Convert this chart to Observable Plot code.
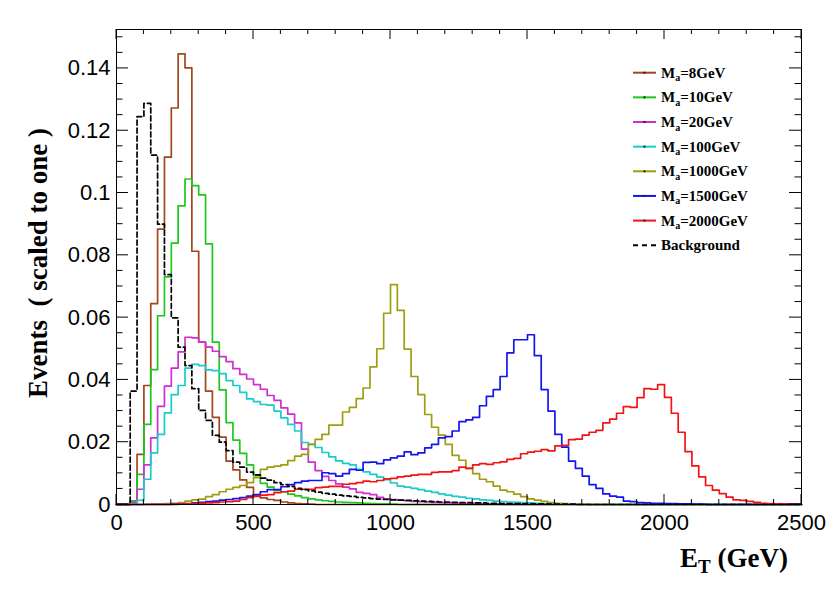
<!DOCTYPE html>
<html><head><meta charset="utf-8">
<script src="https://cdn.jsdelivr.net/npm/d3@7"></script>
<script src="https://cdn.jsdelivr.net/npm/@observablehq/plot@0.6"></script>
<style>html,body{margin:0;padding:0;background:#fff;} #chart{width:830px;height:593px;}</style>
</head><body><div id="chart"></div>
<script>
// ---- data (25 GeV bins, 0..2500 GeV) ----
const binWidth = 25;
const xTicks = [0, 500, 1000, 1500, 2000, 2500];
const yTicks = [0, 0.02, 0.04, 0.06, 0.08, 0.1, 0.12, 0.14];
const yTickLabels = ["0", "0.02", "0.04", "0.06", "0.08", "0.1", "0.12", "0.14"];

const ma8 = [
 0, 0, 0.0011, 0.0161, 0.0382, 0.0645, 0.0884, 0.1115, 0.1273, 0.1447,
 0.1402, 0.0813, 0.0521, 0.0364, 0.0280, 0.0216, 0.0139, 0.0111, 0.0079, 0.0055,
 0.0030, 0.0021, 0.0016, 0.0013, 0.0008, 0.0005, 0.0003, 0.0002, 0.0001, 0,
 0, 0, 0, 0, 0, 0, 0, 0, 0, 0,
 0, 0, 0, 0, 0, 0, 0, 0, 0, 0,
 0, 0, 0, 0, 0, 0, 0, 0, 0, 0,
 0, 0, 0, 0, 0, 0, 0, 0, 0, 0,
 0, 0, 0, 0, 0, 0, 0, 0, 0, 0,
 0, 0, 0, 0, 0, 0, 0, 0, 0, 0,
 0, 0, 0, 0, 0, 0, 0, 0, 0, 0];
const ma10 = [
 0, 0, 0.0008, 0.0097, 0.0257, 0.0433, 0.0606, 0.0731, 0.0839, 0.0959,
 0.1045, 0.1024, 0.0994, 0.0837, 0.0521, 0.0368, 0.0263, 0.0207, 0.0164, 0.0127,
 0.0093, 0.0068, 0.0056, 0.0045, 0.0041, 0.0033, 0.0028, 0.0022, 0.0018, 0.0015,
 0.0012, 0.0010, 0.0008, 0.0007, 0.0006, 0.0005, 0.0004, 0.0003, 0.0002, 0.0002,
 0.0001, 0, 0, 0, 0, 0, 0, 0, 0, 0,
 0, 0, 0, 0, 0, 0, 0, 0, 0, 0,
 0, 0, 0, 0, 0, 0, 0, 0, 0, 0,
 0, 0, 0, 0, 0, 0, 0, 0, 0, 0,
 0, 0, 0, 0, 0, 0, 0, 0, 0, 0,
 0, 0, 0, 0, 0, 0, 0, 0, 0, 0];
const ma20 = [
 0, 0, 0.0005, 0.0049, 0.0127, 0.0214, 0.0315, 0.0380, 0.0438, 0.0490,
 0.0537, 0.0535, 0.0521, 0.0505, 0.0492, 0.0475, 0.0459, 0.0436, 0.0418, 0.0403,
 0.0385, 0.0370, 0.0350, 0.0334, 0.0310, 0.0290, 0.0262, 0.0178, 0.0136, 0.0109,
 0.0090, 0.0077, 0.0066, 0.0056, 0.0050, 0.0039, 0.0036, 0.0032, 0.0023, 0.0018,
 0.0016, 0.0014, 0.0012, 0.0010, 0.0009, 0.0008, 0.0007, 0.0006, 0.0005, 0.0004,
 0.0004, 0.0003, 0.0003, 0.0002, 0.0002, 0.0001, 0, 0, 0, 0,
 0, 0, 0, 0, 0, 0, 0, 0, 0, 0,
 0, 0, 0, 0, 0, 0, 0, 0, 0, 0,
 0, 0, 0, 0, 0, 0, 0, 0, 0, 0,
 0, 0, 0, 0, 0, 0, 0, 0, 0, 0];
const ma100 = [
 0, 0, 0.0003, 0.0013, 0.0081, 0.0166, 0.0225, 0.0294, 0.0353, 0.0382,
 0.0438, 0.0450, 0.0446, 0.0432, 0.0430, 0.0420, 0.0398, 0.0382, 0.0360, 0.0339,
 0.0330, 0.0321, 0.0319, 0.0300, 0.0278, 0.0257, 0.0236, 0.0199, 0.0193, 0.0183,
 0.0167, 0.0153, 0.0140, 0.0132, 0.0127, 0.0113, 0.0105, 0.0097, 0.0088, 0.0080,
 0.0069, 0.0059, 0.0056, 0.0052, 0.0048, 0.0043, 0.0039, 0.0034, 0.0030, 0.0026,
 0.0024, 0.0020, 0.0018, 0.0015, 0.0013, 0.0011, 0.0009, 0.0008, 0.0007, 0.0006,
 0.0005, 0.0004, 0.0003, 0.0002, 0.0002, 0.0001, 0, 0, 0, 0,
 0, 0, 0, 0, 0, 0, 0, 0, 0, 0,
 0, 0, 0, 0, 0, 0, 0, 0, 0, 0,
 0, 0, 0, 0, 0, 0, 0, 0, 0, 0];
const ma1000 = [
 0, 0, 0, 0, 0.0001, 0.0002, 0.0002, 0.0003, 0.0004, 0.0006,
 0.0011, 0.0015, 0.0017, 0.0025, 0.0032, 0.0041, 0.0049, 0.0055, 0.0061, 0.0070,
 0.0086, 0.0113, 0.0120, 0.0123, 0.0127, 0.0141, 0.0155, 0.0161, 0.0193, 0.0209,
 0.0225, 0.0255, 0.0255, 0.0297, 0.0312, 0.0340, 0.0374, 0.0442, 0.0500, 0.0614,
 0.0706, 0.0623, 0.0499, 0.0411, 0.0353, 0.0289, 0.0248, 0.0223, 0.0193, 0.0158,
 0.0142, 0.0116, 0.0099, 0.0081, 0.0073, 0.0059, 0.0046, 0.0041, 0.0033, 0.0025,
 0.0018, 0.0014, 0.0010, 0.0006, 0.0004, 0.0003, 0.0002, 0.0001, 0.0001, 0,
 0, 0, 0, 0, 0, 0, 0, 0, 0, 0,
 0, 0, 0, 0, 0, 0, 0, 0, 0, 0,
 0, 0, 0, 0, 0, 0, 0, 0, 0, 0];
const ma1500 = [
 0, 0, 0, 0, 0, 0, 0, 0, 0.0001, 0.0002,
 0.0003, 0.0005, 0.0007, 0.0009, 0.0011, 0.0014, 0.0016, 0.0019, 0.0022, 0.0027,
 0.0032, 0.0041, 0.0048, 0.0048, 0.0057, 0.0064, 0.0070, 0.0075, 0.0077, 0.0077,
 0.0102, 0.0099, 0.0091, 0.0099, 0.0113, 0.0110, 0.0135, 0.0136, 0.0131, 0.0143,
 0.0150, 0.0155, 0.0169, 0.0160, 0.0166, 0.0182, 0.0193, 0.0214, 0.0218, 0.0236,
 0.0266, 0.0272, 0.0280, 0.0317, 0.0347, 0.0369, 0.0411, 0.0487, 0.0529, 0.0529,
 0.0545, 0.0478, 0.0369, 0.0300, 0.0225, 0.0184, 0.0139, 0.0116, 0.0091, 0.0064,
 0.0052, 0.0034, 0.0027, 0.0024, 0.0011, 0.0009, 0.0006, 0.0005, 0.0004, 0.0004,
 0.0003, 0.0003, 0.0002, 0.0002, 0.0001, 0.0001, 0, 0, 0, 0,
 0, 0, 0, 0, 0, 0, 0, 0, 0, 0];
const ma2000 = [
 0, 0, 0, 0, 0, 0, 0, 0, 0, 0.0001,
 0.0002, 0.0003, 0.0004, 0.0005, 0.0006, 0.0008, 0.0009, 0.0011, 0.0016, 0.0022,
 0.0026, 0.0030, 0.0032, 0.0038, 0.0041, 0.0043, 0.0049, 0.0049, 0.0049, 0.0054,
 0.0056, 0.0058, 0.0058, 0.0065, 0.0067, 0.0070, 0.0075, 0.0073, 0.0077, 0.0082,
 0.0084, 0.0089, 0.0091, 0.0094, 0.0097, 0.0097, 0.0103, 0.0105, 0.0105, 0.0109,
 0.0120, 0.0116, 0.0127, 0.0131, 0.0129, 0.0134, 0.0137, 0.0145, 0.0148, 0.0163,
 0.0168, 0.0171, 0.0176, 0.0172, 0.0188, 0.0190, 0.0208, 0.0210, 0.0223, 0.0232,
 0.0238, 0.0262, 0.0274, 0.0293, 0.0314, 0.0312, 0.0343, 0.0372, 0.0370, 0.0385,
 0.0344, 0.0293, 0.0232, 0.0170, 0.0124, 0.0089, 0.0061, 0.0046, 0.0035, 0.0024,
 0.0015, 0.0013, 0.0010, 0.0007, 0.0004, 0.0003, 0.0002, 0.0002, 0.0001, 0.0001];
const background = [
 0, 0, 0.0364, 0.1245, 0.1288, 0.1122, 0.0900, 0.0738, 0.0599, 0.0505,
 0.0446, 0.0372, 0.0302, 0.0270, 0.0222, 0.0200, 0.0173, 0.0136, 0.0120, 0.0104,
 0.0095, 0.0085, 0.0078, 0.0070, 0.0064, 0.0058, 0.0052, 0.0048, 0.0044, 0.0040,
 0.0036, 0.0033, 0.0030, 0.0028, 0.0026, 0.0023, 0.0021, 0.0019, 0.0017, 0.0016,
 0.0015, 0.0014, 0.0013, 0.0012, 0.0011, 0.0010, 0.0009, 0.0008, 0.0008, 0.0007,
 0.0006, 0.0006, 0.0005, 0.0005, 0.0004, 0.0004, 0.0003, 0.0003, 0.0003, 0.0002,
 0.0002, 0.0002, 0.0002, 0.0001, 0.0001, 0.0001, 0.0001, 0, 0, 0,
 0, 0, 0, 0, 0, 0, 0, 0, 0, 0,
 0, 0, 0, 0, 0, 0, 0, 0, 0, 0,
 0, 0, 0, 0, 0, 0, 0, 0, 0, 0];

const seriesMass = ["8GeV", "10GeV", "20GeV", "100GeV", "1000GeV", "1500GeV", "2000GeV"];
const seriesValues = [ma8, ma10, ma20, ma100, ma1000, ma1500, ma2000, background];
const seriesColors = ["#a3461c", "#1cc81c", "#d02ed0", "#18cccc", "#9e9e10", "#1414f2", "#f21414", "#000000"];

// ---- chart ----
const lineMarks = seriesValues.map((vals, i) => {
  const pts = vals.map((v, k) => ({x: k * binWidth, y: v}));
  pts.push({x: vals.length * binWidth, y: vals[vals.length - 1]});
  return Plot.line(pts, {
    x: "x", y: "y", curve: "step-after",
    stroke: seriesColors[i], strokeWidth: 1.7,
    strokeDasharray: i === 7 ? "5,3" : null
  });
});

const plot = Plot.plot({
  width: 830, height: 593,
  marginLeft: 116, marginRight: 29, marginTop: 29, marginBottom: 89,
  x: {domain: [0, 2500]},
  y: {domain: [0, 0.1525]},
  style: {background: "#fff", fontFamily: "'Liberation Sans', Arial, sans-serif", color: "#000"},
  marks: [
    ...lineMarks,
    Plot.frame({stroke: "#000", strokeWidth: 1}),
    Plot.axisX({ticks: xTicks, tickSize: 0, tickPadding: 10, fontSize: 22, label: null, tickFormat: d => String(d)}),
    Plot.axisY({ticks: yTicks, tickSize: 0, tickPadding: 6, fontSize: 22, label: null,
      tickFormat: (d, i) => yTickLabels[i]})
  ]
});

document.getElementById("chart").appendChild(plot);

const sx = plot.scale("x"), sy = plot.scale("y");
const svg = d3.select(plot);
const x0 = sx.apply(0), x1 = sx.apply(2500), y0 = sy.apply(0), y1 = sy.apply(0.1525);
const tg = svg.append("g").attr("stroke", "#000").attr("stroke-width", 1);
// x ticks (inward, bottom and top)
d3.range(0, 2501, 100).forEach(v => {
  const px = sx.apply(v), len = v % 500 === 0 ? 10 : 5;
  tg.append("line").attr("x1", px).attr("x2", px).attr("y1", y0).attr("y2", y0 - len);
  tg.append("line").attr("x1", px).attr("x2", px).attr("y1", y1).attr("y2", y1 + len);
});
// y ticks (inward, left and right)
d3.range(0, 0.1526, 0.005).forEach((v, i) => {
  const py = sy.apply(v), len = i % 4 === 0 ? 12 : 6.5;
  tg.append("line").attr("x1", x0).attr("x2", x0 + len).attr("y1", py).attr("y2", py);
  tg.append("line").attr("x1", x1).attr("x2", x1 - len).attr("y1", py).attr("y2", py);
});

const serif = "'Liberation Serif', 'Times New Roman', serif";
// x title
const xt = svg.append("text").attr("x", 788).attr("y", 567).attr("text-anchor", "end")
  .attr("font-family", serif).attr("font-weight", "bold").attr("font-size", 27).attr("fill", "#000");
xt.append("tspan").text("E");
xt.append("tspan").attr("font-size", 19).attr("dy", 6).text("T");
xt.append("tspan").attr("dy", -6).text(" (GeV)");
// y title
svg.append("text").attr("transform", "translate(46.5,128) rotate(-90)").attr("text-anchor", "end")
  .attr("font-family", serif).attr("font-weight", "bold").attr("font-size", 27).attr("fill", "#000")
  .style("white-space", "pre").text("Events  ( scaled to one )");

// legend
const lg = svg.append("g").attr("text-anchor", "start");
const rowY0 = 72.7, rowStep = 24.65;
seriesValues.forEach((vals, i) => {
  const y = rowY0 + i * rowStep;
  lg.append("line").attr("x1", 633).attr("x2", 656).attr("y1", y).attr("y2", y)
    .attr("stroke", seriesColors[i]).attr("stroke-width", 2)
    .attr("stroke-dasharray", i === 7 ? "5,4" : null);
  if (i < 7) lg.append("rect").attr("x", 643.5).attr("y", y - 1).attr("width", 2).attr("height", 2).attr("fill", "#222");
  const t = lg.append("text").attr("x", 661).attr("y", y + 5).attr("text-anchor", "start")
    .attr("font-family", serif).attr("font-weight", "bold").attr("font-size", 15).attr("fill", "#000");
  if (i < 7) {
    t.append("tspan").text("M");
    t.append("tspan").attr("font-size", 10).attr("dy", 3.5).text("a");
    t.append("tspan").attr("dy", -3.5).text("=" + seriesMass[i]);
  } else {
    t.text("Background");
  }
});
</script>
</body></html>
